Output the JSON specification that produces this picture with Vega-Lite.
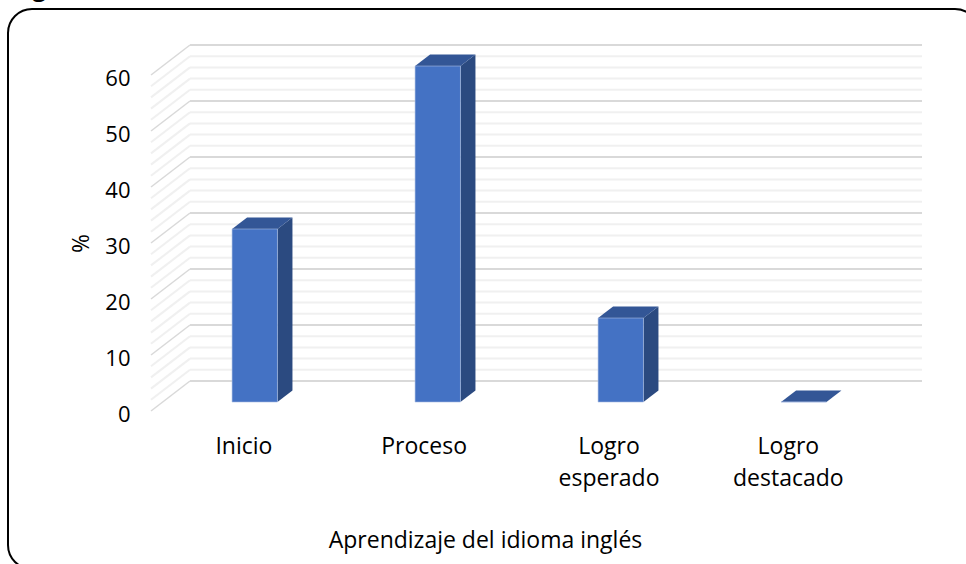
{
"$schema":"https://vega.github.io/schema/vega-lite/v6.json",
"width":971,"height":560,
"autosize":{"type":"none"},
"padding":{"left":8,"top":9,"right":0,"bottom":0},
"background":"white",
"title":{"text":"Figura","anchor":"start","frame":"group","font":"Open Sans","fontWeight":"bold","fontSize":24,"color":"black","dx":4,"offset":-11,"baseline":"alphabetic"},
"config":{"view":{"stroke":"black","strokeWidth":2,"cornerRadius":24,"fill":"white"},"font":"Open Sans"},
"resolve":{"axis":{"x":"independent","y":"independent"}},
"datasets":{
"grid":[
{"v":0,"back":5.36,"major":true},{"v":2,"back":7.36,"major":false},{"v":4,"back":9.36,"major":false},{"v":6,"back":11.36,"major":false},{"v":8,"back":13.36,"major":false},
{"v":10,"back":15.36,"major":true},{"v":12,"back":17.36,"major":false},{"v":14,"back":19.36,"major":false},{"v":16,"back":21.36,"major":false},{"v":18,"back":23.36,"major":false},
{"v":20,"back":25.36,"major":true},{"v":22,"back":27.36,"major":false},{"v":24,"back":29.36,"major":false},{"v":26,"back":31.36,"major":false},{"v":28,"back":33.36,"major":false},
{"v":30,"back":35.36,"major":true},{"v":32,"back":37.36,"major":false},{"v":34,"back":39.36,"major":false},{"v":36,"back":41.36,"major":false},{"v":38,"back":43.36,"major":false},
{"v":40,"back":45.36,"major":true},{"v":42,"back":47.36,"major":false},{"v":44,"back":49.36,"major":false},{"v":46,"back":51.36,"major":false},{"v":48,"back":53.36,"major":false},
{"v":50,"back":55.36,"major":true},{"v":52,"back":57.36,"major":false},{"v":54,"back":59.36,"major":false},{"v":56,"back":61.36,"major":false},{"v":58,"back":63.36,"major":false},
{"v":60,"back":65.36,"major":true}],
"bars":[
{"cat":"Inicio","value":31,"x0":0.443,"x1":0.691,"base":1.6,"top":32.5},
{"cat":"Proceso","value":60,"x0":1.443,"x1":1.691,"base":1.6,"top":61.6},
{"cat":"Logro esperado","value":15,"x0":2.443,"x1":2.691,"base":1.6,"top":16.6},
{"cat":"Logro destacado","value":0,"x0":3.443,"x1":3.691,"base":1.6,"top":1.6}],
"side":[
{"cat":"Inicio","x":0.691,"lo":1.6,"hi":32.5},{"cat":"Inicio","x":0.773,"lo":3.65,"hi":34.55},
{"cat":"Proceso","x":1.691,"lo":1.6,"hi":61.6},{"cat":"Proceso","x":1.773,"lo":3.65,"hi":63.65},
{"cat":"Logro esperado","x":2.691,"lo":1.6,"hi":16.6},{"cat":"Logro esperado","x":2.773,"lo":3.65,"hi":18.65}],
"topface":[
{"cat":"Inicio","x":0.443,"lo":32.5,"hi":32.5},{"cat":"Inicio","x":0.525,"lo":32.5,"hi":34.55},{"cat":"Inicio","x":0.691,"lo":32.5,"hi":34.55},{"cat":"Inicio","x":0.773,"lo":34.55,"hi":34.55},
{"cat":"Proceso","x":1.443,"lo":61.6,"hi":61.6},{"cat":"Proceso","x":1.525,"lo":61.6,"hi":63.65},{"cat":"Proceso","x":1.691,"lo":61.6,"hi":63.65},{"cat":"Proceso","x":1.773,"lo":63.65,"hi":63.65},
{"cat":"Logro esperado","x":2.443,"lo":16.6,"hi":16.6},{"cat":"Logro esperado","x":2.525,"lo":16.6,"hi":18.65},{"cat":"Logro esperado","x":2.691,"lo":16.6,"hi":18.65},{"cat":"Logro esperado","x":2.773,"lo":18.65,"hi":18.65},
{"cat":"Logro destacado","x":3.443,"lo":1.6,"hi":1.6},{"cat":"Logro destacado","x":3.525,"lo":1.6,"hi":3.65},{"cat":"Logro destacado","x":3.691,"lo":1.6,"hi":3.65},{"cat":"Logro destacado","x":3.773,"lo":3.65,"hi":3.65}]
},
"data":{"name":"grid"},
"layer":[
{"mark":{"type":"rule"},
 "encoding":{
  "x":{"datum":0,"type":"quantitative","scale":{"domain":[-0.7814,4.5246],"nice":false,"zero":false},
   "axis":{"orient":"bottom","offset":-134,"values":[0.505,1.49,2.5,3.48],"labelExpr":"[['Inicio'],['Proceso'],['Logro','esperado'],['Logro','destacado']][round(datum.index*3)]","domain":false,"ticks":false,"grid":false,"labelFont":"Open Sans","labelFontSize":23,"labelColor":"black","labelPadding":0,"labelBaseline":"top","labelLineHeight":32,"labelAlign":"center","labelOverlap":false,"labelBound":false,"labelFlush":false,
   "title":"Aprendizaje del idioma inglés","titleFont":"Open Sans","titleFontSize":23,"titleFontWeight":"normal","titleColor":"black","titleX":477,"titleY":105,"titleBaseline":"middle","titleAlign":"center","titleAnchor":"middle"}},
  "x2":{"datum":0.2131},
  "y":{"field":"v","type":"quantitative","scale":{"domain":[-28.214,71.786],"nice":false,"zero":false},
   "axis":{"orient":"left","offset":-122,"values":[0,10,20,30,40,50,60],"domain":false,"ticks":false,"grid":false,"labelFont":"Open Sans","labelFontSize":22,"labelColor":"black","labelPadding":0,"labelOffset":3,
   "title":"%","titleFont":"Open Sans","titleFontSize":23,"titleFontWeight":"normal","titleColor":"black","titleX":-49,"titleY":234,"titleAngle":-90,"titleBaseline":"middle","titleAlign":"center"}},
  "y2":{"field":"back"},
  "stroke":{"condition":{"test":"datum.major","value":"#d9d9d9"},"value":"#f0f0f0"},
  "strokeWidth":{"condition":{"test":"datum.major","value":1.5},"value":2}
 }},
{"mark":{"type":"rule"},
 "encoding":{
  "x":{"datum":0.2131,"type":"quantitative","axis":null},
  "x2":{"datum":4.2131},
  "y":{"field":"back","type":"quantitative","axis":null},
  "stroke":{"condition":{"test":"datum.major","value":"#d9d9d9"},"value":"#f0f0f0"},
  "strokeWidth":{"condition":{"test":"datum.major","value":2},"value":2}
 }},
{"data":{"name":"side"},"mark":{"type":"area","color":"#2b4a80"},
 "encoding":{"x":{"field":"x","type":"quantitative","axis":null},"y":{"field":"lo","type":"quantitative","axis":null,"stack":null},"y2":{"field":"hi"},"detail":{"field":"cat"}}},
{"data":{"name":"topface"},"mark":{"type":"area","color":"#335696"},
 "encoding":{"x":{"field":"x","type":"quantitative","axis":null},"y":{"field":"lo","type":"quantitative","axis":null,"stack":null},"y2":{"field":"hi"},"detail":{"field":"cat"}}},
{"data":{"name":"bars"},"mark":{"type":"rect","color":"#4472c4","stroke":"#a9bde3","strokeWidth":0.6},
 "encoding":{"x":{"field":"x0","type":"quantitative","axis":null},"x2":{"field":"x1"},"y":{"field":"base","type":"quantitative","axis":null},"y2":{"field":"top"}}}
]
}
